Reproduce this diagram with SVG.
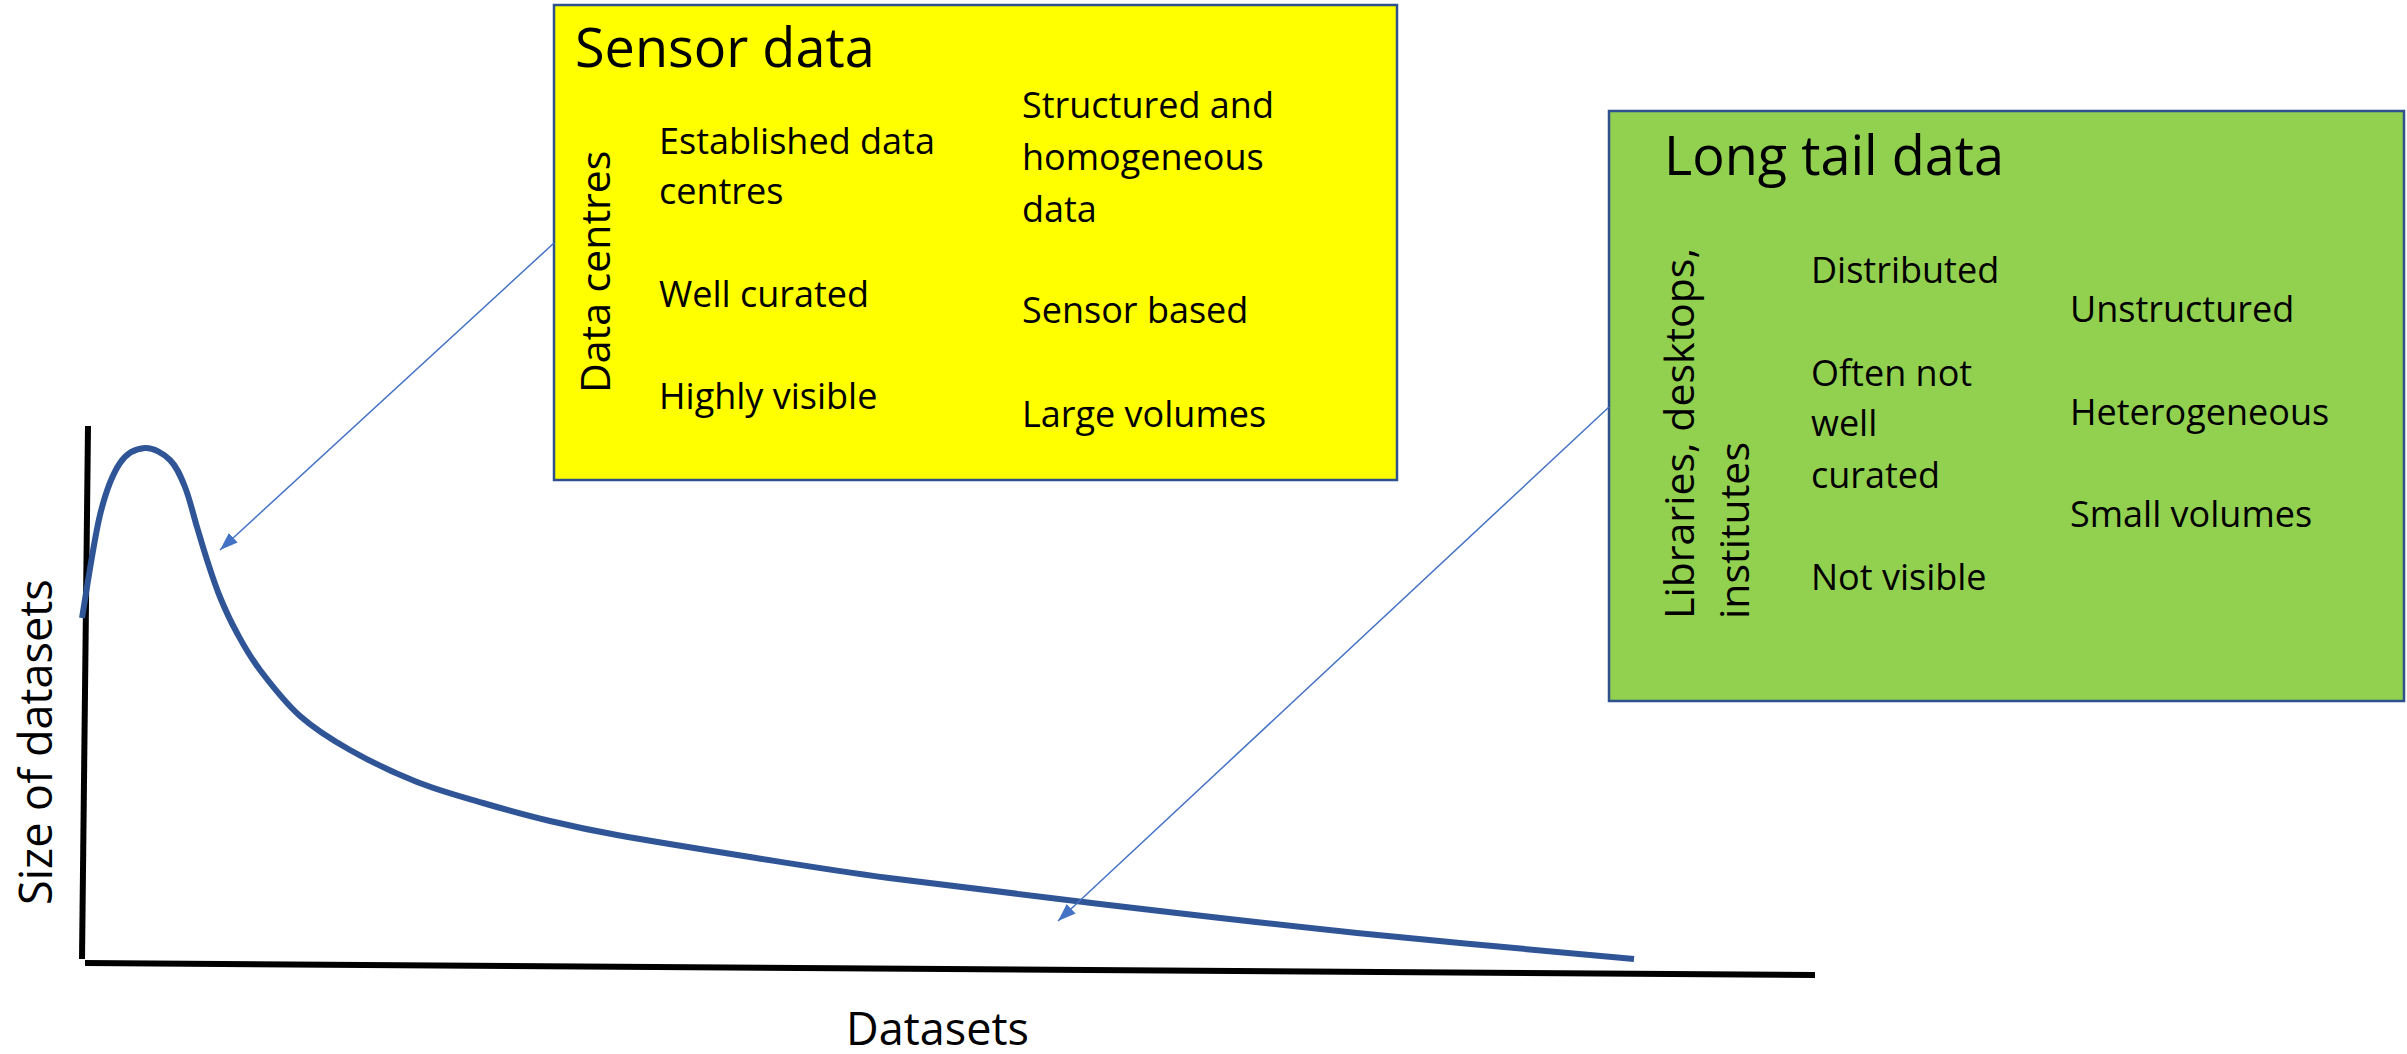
<svg xmlns="http://www.w3.org/2000/svg" width="2407" height="1054" viewBox="0 0 2407 1054">
<style>
text{font-family:"Open Sans","Liberation Sans",sans-serif;fill:#000}
.title{font-size:54px}
.body{font-size:36px}
.side{font-size:41px}
.axlabel{font-size:45px}
.box{stroke:#2F528F;stroke-width:2.5}
.axis{stroke:#000;stroke-width:6;fill:none}
.curve{stroke:#2F5597;stroke-width:6;fill:none;stroke-linecap:butt;stroke-linejoin:round}
.conn{stroke:#4472C4;stroke-width:1.5;fill:none}
</style>
<defs>
<marker id="arr" markerUnits="userSpaceOnUse" markerWidth="20" markerHeight="14" refX="18" refY="6.5" orient="auto">
<path d="M0,0 L18,6.5 L0,13 z" fill="#4472C4"/>
</marker>
</defs>
<rect width="2407" height="1054" fill="#fff"/>
<g id="axes">
<line class="axis" x1="88" y1="426" x2="82" y2="959"/>
<line class="axis" x1="85" y1="963" x2="1815" y2="975"/>
<text class="axlabel" transform="translate(52,905) rotate(-90)">Size of datasets</text>
<text class="axlabel" x="846" y="1045">Datasets</text>
</g>
<g id="curve">
<path class="curve" d="M82,618 C85,600.8 93.7,540.8 100,515 C106.3,489.2 112.5,474.2 120,463 C127.5,451.8 136.7,448.5 145,448 C153.3,447.5 163.3,453.5 170,460 C176.7,466.5 180.5,475.8 185,487 C189.5,498.2 193.2,514.3 197,527 C200.8,539.7 204.2,551.3 208,563 C211.8,574.7 215.2,585.3 220,597 C224.8,608.7 230.3,620.8 237,633 C243.7,645.2 249.5,656.2 260,670 C270.5,683.8 285,702.7 300,716 C315,729.3 330.5,739 350,750 C369.5,761 394.8,773.2 417,782 C439.2,790.8 460.8,796.5 483,803 C505.2,809.5 527.7,815.7 550,821 C572.3,826.3 583.7,829 617,835 C650.3,841 704.7,849.8 750,857 C795.3,864.2 830.7,870.2 889,878 C947.3,885.8 1022,894.8 1100,904 C1178,913.2 1268,923.8 1357,933 C1446,942.2 1587.8,954.7 1634,959"/>
</g>
<g id="sensor-data">
<rect class="box" x="554" y="5" width="843" height="475" fill="#FFFF00"/>
<text class="title" x="575" y="67">Sensor data</text>
<text class="side" transform="translate(610,393) rotate(-90)">Data centres</text>
<text class="body" x="659" y="154">Established data</text>
<text class="body" x="659" y="204">centres</text>
<text class="body" x="659" y="307">Well curated</text>
<text class="body" x="659" y="409">Highly visible</text>
<text class="body" x="1022" y="118">Structured and</text>
<text class="body" x="1022" y="170">homogeneous</text>
<text class="body" x="1022" y="222">data</text>
<text class="body" x="1022" y="323">Sensor based</text>
<text class="body" x="1022" y="427">Large volumes</text>
</g>
<g id="long-tail-data">
<rect class="box" x="1609" y="111" width="795" height="590" fill="#92D050"/>
<text class="title" x="1664" y="175">Long tail data</text>
<text class="side" transform="translate(1694,619) rotate(-90)">Libraries, desktops,</text>
<text class="side" transform="translate(1749,619) rotate(-90)">institutes</text>
<text class="body" x="1811" y="283">Distributed</text>
<text class="body" x="1811" y="386">Often not</text>
<text class="body" x="1811" y="436">well</text>
<text class="body" x="1811" y="488">curated</text>
<text class="body" x="1811" y="590">Not visible</text>
<text class="body" x="2070" y="322">Unstructured</text>
<text class="body" x="2070" y="425">Heterogeneous</text>
<text class="body" x="2070" y="527">Small volumes</text>
</g>
<g id="connectors">
<line class="conn" x1="554" y1="243" x2="220" y2="550" marker-end="url(#arr)"/>
<line class="conn" x1="1609" y1="407" x2="1058" y2="921" marker-end="url(#arr)"/>
</g>
</svg>
